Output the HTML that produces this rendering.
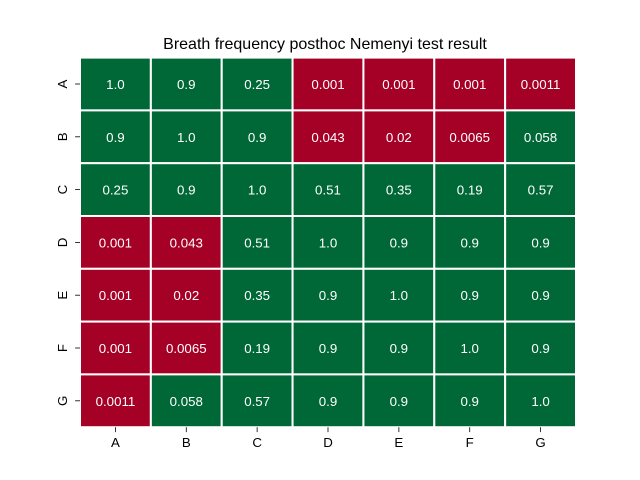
<!DOCTYPE html>
<html><head><meta charset="utf-8"><style>body{margin:0;background:#fff}svg{display:block}</style></head>
<body>
<svg id="c" width="640" height="480" xmlns="http://www.w3.org/2000/svg" font-family="Liberation Sans, DejaVu Sans, sans-serif">
<text x="325" y="49" text-anchor="middle" font-size="16" fill="#000">Breath frequency posthoc Nemenyi test result</text>
<g id="cells"></g><g id="ticks"></g>
</svg>
<script>
const rowLabels = ["A","B","C","D","E","F","G"];
const colLabels = ["A","B","C","D","E","F","G"];
const valueLabels = [
["1.0","0.9","0.25","0.001","0.001","0.001","0.0011"],
["0.9","1.0","0.9","0.043","0.02","0.0065","0.058"],
["0.25","0.9","1.0","0.51","0.35","0.19","0.57"],
["0.001","0.043","0.51","1.0","0.9","0.9","0.9"],
["0.001","0.02","0.35","0.9","1.0","0.9","0.9"],
["0.001","0.0065","0.19","0.9","0.9","1.0","0.9"],
["0.0011","0.058","0.57","0.9","0.9","0.9","1.0"]];
const L=80,R=576,T=57.6,B=427.2;
const cw=(R-L)/colLabels.length, ch=(B-T)/rowLabels.length;
const xs=i=>L+i*cw, ys=j=>T+j*ch;
const NS="http://www.w3.org/2000/svg";
const cells=document.getElementById('cells'), ticks=document.getElementById('ticks');
valueLabels.forEach((row,j)=>row.forEach((v,i)=>{
  const r=document.createElementNS(NS,'rect');
  r.setAttribute('x',xs(i));r.setAttribute('y',ys(j));r.setAttribute('width',cw);r.setAttribute('height',ch);
  r.setAttribute('fill',parseFloat(v)<0.05?'#a50026':'#006837');
  r.setAttribute('stroke','#fff');r.setAttribute('stroke-width','2');
  
  
  cells.appendChild(r);
  const t=document.createElementNS(NS,'text');
  t.setAttribute('x',xs(i)+cw/2);t.setAttribute('y',ys(j)+ch/2+5);
  t.setAttribute('text-anchor','middle');t.setAttribute('font-size','13.3');t.setAttribute('fill','#fff');
  t.textContent=v;
  
  
  cells.appendChild(t);
}));
colLabels.forEach((c,i)=>{
  const x=xs(i)+cw/2;
  const l=document.createElementNS(NS,'line');
  l.setAttribute('x1',x);l.setAttribute('x2',x);l.setAttribute('y1',B);l.setAttribute('y2',B+4.9);l.setAttribute('stroke','#000');l.setAttribute('stroke-width','0.8');
  
  
  ticks.appendChild(l);
  const t=document.createElementNS(NS,'text');
  t.setAttribute('x',x);t.setAttribute('y',B+20);t.setAttribute('text-anchor','middle');t.setAttribute('font-size','13.3');
  t.textContent=c;
  
  
  ticks.appendChild(t);
});
rowLabels.forEach((c,j)=>{
  const y=ys(j)+ch/2;
  const l=document.createElementNS(NS,'line');
  l.setAttribute('x1',L-4.9);l.setAttribute('x2',L);l.setAttribute('y1',y);l.setAttribute('y2',y);l.setAttribute('stroke','#000');l.setAttribute('stroke-width','0.8');
  
  
  ticks.appendChild(l);
  const t=document.createElementNS(NS,'text');
  t.setAttribute('transform','translate('+(L-13)+','+y+') rotate(-90)');
  t.setAttribute('text-anchor','middle');t.setAttribute('font-size','13.3');
  t.textContent=c;
  
  
  ticks.appendChild(t);
});
</script>
</body></html>
